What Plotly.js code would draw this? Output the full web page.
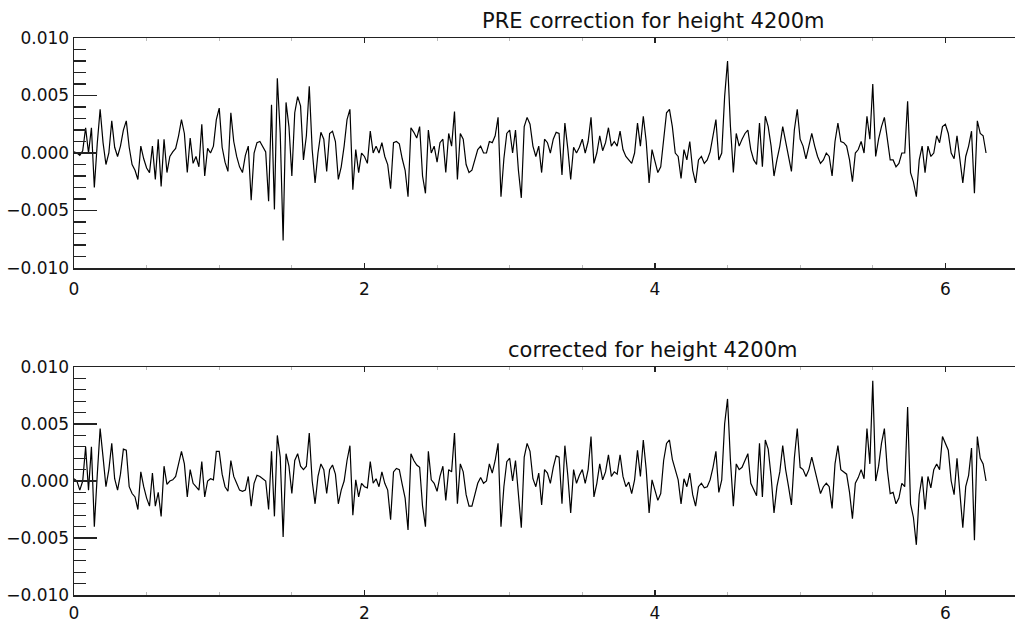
<!DOCTYPE html>
<html><head><meta charset="utf-8">
<script src="https://cdn.plot.ly/plotly-3.0.1.min.js"></script>
<style>html,body{margin:0;padding:0;overflow:hidden;background:#fff}#chart{width:1030px;height:624px}</style>
</head><body><div id="chart"></div>
<script>
// sample spacing of the series (x from 0 to 2*pi)
const T0 = 0, DT = 0.02;

const preCorrection = [
0.1e-3,0,-0.2e-3,0.2e-3,2.2e-3,0,2.2e-3,-3.0e-3,0.8e-3,3.8e-3,0.9e-3,-1.0e-3,0,2.8e-3,0.5e-3,-0.3e-3,0.6e-3,2.0e-3,2.8e-3,0.5e-3,-1.0e-3,-1.5e-3,-2.3e-3,0.6e-3,-0.5e-3,
-1.3e-3,-1.7e-3,0.6e-3,-2.3e-3,1.2e-3,-2.9e-3,1.2e-3,-1.7e-3,-0.3e-3,0.1e-3,0.4e-3,1.5e-3,2.9e-3,1.7e-3,-1.7e-3,1.3e-3,-0.9e-3,-0.3e-3,-1.2e-3,2.5e-3,-2.0e-3,0.4e-3,0,0.6e-3,2.9e-3,
3.9e-3,0.5e-3,-0.8e-3,-1.6e-3,3.5e-3,1.0e-3,-0.3e-3,-1.2e-3,-1.7e-3,-0.2e-3,0.6e-3,-4.1e-3,0,0.9e-3,1.0e-3,0.5e-3,0.1e-3,-4.2e-3,4.2e-3,-4.9e-3,6.5e-3,1.7e-3,-7.6e-3,4.4e-3,2.3e-3,
-2.0e-3,3.5e-3,4.9e-3,4.1e-3,-0.6e-3,1.5e-3,5.8e-3,0.3e-3,-2.6e-3,0,1.8e-3,1.2e-3,-1.6e-3,1.7e-3,1.9e-3,1.0e-3,-2.3e-3,
-1.2e-3,0.6e-3,2.9e-3,3.8e-3,-3.2e-3,0.3e-3,-1.7e-3,0,-0.3e-3,-0.9e-3,
1.9e-3,0,0.6e-3,0,0.9e-3,-0.3e-3,-1.0e-3,-3.1e-3,0.9e-3,1.0e-3,
0.8e-3,-0.5e-3,-1.5e-3,-3.8e-3,2.2e-3,1.8e-3,1.3e-3,2.3e-3,-2.0e-3,-3.5e-3,
2.0e-3,0,0.6e-3,-0.8e-3,0.9e-3,1.2e-3,-1.7e-3,1.7e-3,0.6e-3,3.6e-3,
-2.3e-3,1.7e-3,1.2e-3,-1.0e-3,-1.7e-3,-1.5e-3,-0.6e-3,0.3e-3,0.6e-3,0,
0,1.0e-3,0.9e-3,1.5e-3,3.1e-3,-3.8e-3,-0.5e-3,1.7e-3,2.0e-3,0,
2.0e-3,-1.5e-3,-3.9e-3,2.3e-3,3.1e-3,2.5e-3,0.6e-3,-0.3e-3,0.6e-3,-1.7e-3,
1.2e-3,0.9e-3,0,1.2e-3,1.8e-3,1.7e-3,-1.9e-3,2.6e-3,0.4e-3,-2.3e-3,
0.5e-3,0,0.5e-3,1.2e-3,0,1.0e-3,3.1e-3,-0.9e-3,0,1.5e-3,
0.2e-3,0.9e-3,2.2e-3,0.6e-3,1.0e-3,0.6e-3,1.9e-3,0.3e-3,-0.3e-3,-0.6e-3,
-0.9e-3,0,2.6e-3,0.6e-3,3.2e-3,1.0e-3,-2.6e-3,0.3e-3,-0.6e-3,-1.7e-3,
-1.2e-3,1.0e-3,3.5e-3,3.8e-3,
2.3e-3,0,-0.3e-3,-2.2e-3,0.3e-3,-0.6e-3,1.0e-3,-1.5e-3,-2.6e-3,-0.6e-3,
-0.3e-3,-0.9e-3,-0.6e-3,0.1e-3,1.5e-3,2.9e-3,-0.6e-3,0,4.9e-3,8.0e-3,
2.3e-3,-1.7e-3,1.7e-3,0.6e-3,1.2e-3,1.7e-3,2.0e-3,0.3e-3,-0.6e-3,-1.0e-3,
2.6e-3,-1.2e-3,3.2e-3,2.3e-3,0.6e-3,-2.0e-3,-0.6e-3,0.6e-3,2.3e-3,0.9e-3,
-0.3e-3,-1.6e-3,2.0e-3,3.8e-3,1.2e-3,0.6e-3,-0.5e-3,0.6e-3,1.7e-3,0.6e-3,
-0.3e-3,-0.9e-3,-0.6e-3,0,-0.3e-3,-2.0e-3,1.0e-3,2.6e-3,1.0e-3,0.9e-3,
0.6e-3,-0.6e-3,-2.5e-3,0,0.3e-3,1.0e-3,0,3.2e-3,1.2e-3,6.0e-3,
-0.3e-3,1.2e-3,2.3e-3,3.1e-3,1.0e-3,-0.6e-3,-0.6e-3,-1.2e-3,-0.9e-3,0,
0,4.5e-3,-1.7e-3,-2.5e-3,-3.8e-3,-0.6e-3,0.6e-3,-1.7e-3,0.6e-3,-0.3e-3,
0,1.5e-3,0.9e-3,2.3e-3,2.5e-3,1.7e-3,0,-0.5e-3,1.5e-3,-0.6e-3,
-2.6e-3,-0.3e-3,0.6e-3,1.9e-3,-3.5e-3,2.8e-3,1.7e-3,1.5e-3,0
];

const corrected = [
0.2e-3,0,-0.8e-3,0,3.0e-3,-0.8e-3,3.0e-3,-4.0e-3,0.5e-3,4.6e-3,2.1e-3,-0.5e-3,1.0e-3,3.3e-3,0.2e-3,-0.8e-3,0.6e-3,2.8e-3,2.7e-3,-0.5e-3,-1.1e-3,-1.4e-3,-2.5e-3,0.8e-3,-0.5e-3,
-1.5e-3,-2.2e-3,0.7e-3,-2.2e-3,-1.0e-3,-3.1e-3,1.3e-3,-0.3e-3,0,0.1e-3,0.4e-3,1.5e-3,2.6e-3,1.5e-3,-1.4e-3,1.0e-3,-0.2e-3,-0.5e-3,-0.8e-3,1.7e-3,-1.4e-3,0,0.2e-3,0.1e-3,2.6e-3,
2.6e-3,0.6e-3,-0.5e-3,-0.9e-3,1.8e-3,0.4e-3,-0.2e-3,-0.8e-3,-0.9e-3,-0.8e-3,0.4e-3,-2.2e-3,-0.2e-3,0.5e-3,0.4e-3,0.2e-3,0,-2.5e-3,2.6e-3,-3.1e-3,4.0e-3,2.1e-3,-4.9e-3,2.4e-3,1.3e-3,
-1.1e-3,1.8e-3,2.4e-3,1.3e-3,1.0e-3,1.3e-3,4.2e-3,0,-2.0e-3,0.4e-3,1.5e-3,1.0e-3,-1.1e-3,1.0e-3,1.4e-3,0.6e-3,-2.0e-3,
-0.8e-3,0,1.8e-3,3.1e-3,-3.0e-3,0.1e-3,-1.4e-3,-0.2e-3,-0.5e-3,-0.6e-3,
1.7e-3,-0.2e-3,0.2e-3,-0.5e-3,0.8e-3,-0.2e-3,-0.8e-3,-3.4e-3,0.8e-3,1.1e-3,
1.0e-3,-0.3e-3,-1.5e-3,-4.3e-3,2.4e-3,1.8e-3,1.4e-3,1.2e-3,-2.2e-3,-4.0e-3,
2.6e-3,0.1e-3,-0.2e-3,-0.9e-3,0.4e-3,1.3e-3,-1.7e-3,1.0e-3,0.8e-3,4.2e-3,
-2.0e-3,1.5e-3,0.8e-3,-1.2e-3,-2.2e-3,-2.2e-3,-1.1e-3,-0.2e-3,0.3e-3,-0.2e-3,
0,1.5e-3,0.7e-3,1.8e-3,3.3e-3,-4.0e-3,-0.5e-3,1.7e-3,2.0e-3,0,
1.8e-3,-1.4e-3,-4.1e-3,2.1e-3,3.3e-3,2.6e-3,0.2e-3,-0.5e-3,0.7e-3,-2.1e-3,
1.0e-3,0.7e-3,-0.2e-3,1.2e-3,2.2e-3,2.1e-3,-2.0e-3,3.1e-3,0.5e-3,-2.8e-3,
1.0e-3,-0.2e-3,0.5e-3,1.0e-3,-0.2e-3,1.0e-3,3.9e-3,-1.4e-3,-0.2e-3,1.5e-3,
0.1e-3,0.8e-3,2.3e-3,0.4e-3,0.8e-3,0.6e-3,2.3e-3,0.4e-3,-0.5e-3,-0.1e-3,
-1.1e-3,0.1e-3,2.7e-3,0.4e-3,3.6e-3,1.0e-3,-2.8e-3,0.1e-3,-0.8e-3,-1.7e-3,
-1.1e-3,1.8e-3,3.3e-3,3.6e-3,
1.9e-3,0.9e-3,0.1e-3,-2.0e-3,0.2e-3,-0.5e-3,0.7e-3,-1.2e-3,-2.2e-3,-0.5e-3,
-0.2e-3,-0.6e-3,-0.5e-3,0.1e-3,1.2e-3,2.6e-3,-1.0e-3,0.1e-3,5.0e-3,7.2e-3,
1.8e-3,-2.2e-3,1.5e-3,1.0e-3,1.2e-3,1.8e-3,2.4e-3,-0.2e-3,-0.8e-3,-1.3e-3,
3.3e-3,-1.4e-3,3.6e-3,2.8e-3,0.4e-3,-2.8e-3,-0.5e-3,0.8e-3,3.1e-3,1.0e-3,
-0.5e-3,-2.1e-3,2.0e-3,4.6e-3,1.2e-3,1.0e-3,0.4e-3,1.0e-3,2.1e-3,1.0e-3,
-0.2e-3,-1.1e-3,-0.5e-3,-0.2e-3,-0.5e-3,-2.4e-3,1.5e-3,3.1e-3,1.0e-3,0.8e-3,
0.6e-3,-1.0e-3,-3.3e-3,-0.2e-3,0.3e-3,1.0e-3,0.2e-3,4.6e-3,1.5e-3,8.8e-3,
0,1.3e-3,3.3e-3,4.6e-3,1.0e-3,-1.1e-3,-1.0e-3,-2.0e-3,-1.5e-3,-0.2e-3,
-0.5e-3,6.5e-3,-2.0e-3,-3.2e-3,-5.6e-3,-1.2e-3,0.4e-3,-2.5e-3,0.4e-3,-0.6e-3,
1.0e-3,1.5e-3,1.0e-3,3.9e-3,3.3e-3,2.7e-3,0,-1.2e-3,2.0e-3,-0.8e-3,
-4.1e-3,-0.5e-3,0.5e-3,2.9e-3,-5.2e-3,3.9e-3,2.0e-3,1.5e-3,0
];

const panelTitles = ['PRE correction for height 4200m', 'corrected for height 4200m'];
const yTickVals = [-0.010, -0.005, 0, 0.005, 0.010];
const yTickText = ['\u22120.010', '\u22120.005', '0.000', '0.005', '0.010'];
const xTickVals = [0, 2, 4, 6];
const xTickText = ['0', '2', '4', '6'];

const AX = '#222';
const FONT = 'DejaVu Sans';

function xAxis(anchor, standoff) {
  return {
    anchor: anchor, range: [0, 6.5],
    tickmode: 'array', tickvals: xTickVals, ticktext: xTickText,
    ticks: 'inside', ticklen: 5, tickwidth: 1.2, tickcolor: AX,
    showline: true, linecolor: AX, linewidth: 1.5, mirror: 'ticks',
    showgrid: false, zeroline: false,
    tickfont: {family: FONT, size: 17, color: '#111'},
    ticklabelstandoff: standoff,
    minor: {tickmode: 'linear', tick0: 0, dtick: 0.5, ticks: 'inside', ticklen: 3, tickwidth: 1, tickcolor: '#bbb', showgrid: false},
    fixedrange: true
  };
}
function yAxis(anchor, domain) {
  return {
    anchor: anchor, domain: domain, range: [-0.010, 0.010],
    tickmode: 'array', tickvals: yTickVals, ticktext: yTickText,
    ticks: 'inside', ticklen: 23, tickwidth: 1.2, tickcolor: AX,
    showline: true, linecolor: AX, linewidth: 1.5, mirror: true,
    showgrid: false, zeroline: false,
    tickfont: {family: FONT, size: 17, color: '#111'},
    minor: {tickmode: 'linear', tick0: 0, dtick: 0.001, ticks: 'inside', ticklen: 12, tickwidth: 1.2, tickcolor: AX, showgrid: false},
    fixedrange: true
  };
}

const traces = [
  {type: 'scatter', mode: 'lines', x0: T0, dx: DT, y: preCorrection, xaxis: 'x', yaxis: 'y',
   line: {color: '#000', width: 1.2}, hoverinfo: 'skip', showlegend: false},
  {type: 'scatter', mode: 'lines', x0: T0, dx: DT, y: corrected, xaxis: 'x2', yaxis: 'y2',
   line: {color: '#000', width: 1.2}, hoverinfo: 'skip', showlegend: false}
];

const layout = {
  width: 1030, height: 624,
  margin: {l: 74, r: 12, t: 38, b: 29},
  paper_bgcolor: '#fff', plot_bgcolor: '#fff',
  showlegend: false,
  xaxis: xAxis('y', 5),
  yaxis: yAxis('x', [0.587, 1]),
  xaxis2: xAxis('y2', 2),
  yaxis2: yAxis('x2', [0, 0.4093]),
  annotations: [
    {text: panelTitles[0], xref: 'paper', yref: 'paper', x: 0.6133, y: 1.0305, xanchor: 'center', yanchor: 'middle',
     showarrow: false, font: {family: FONT, size: 21, color: '#111'}},
    {text: panelTitles[1], xref: 'paper', yref: 'paper', x: 0.6133, y: 0.44, xanchor: 'center', yanchor: 'middle',
     showarrow: false, font: {family: FONT, size: 21, color: '#111'}}
  ]
};

Plotly.newPlot('chart', traces, layout, {displayModeBar: false, staticPlot: true});
</script>
</body></html>
